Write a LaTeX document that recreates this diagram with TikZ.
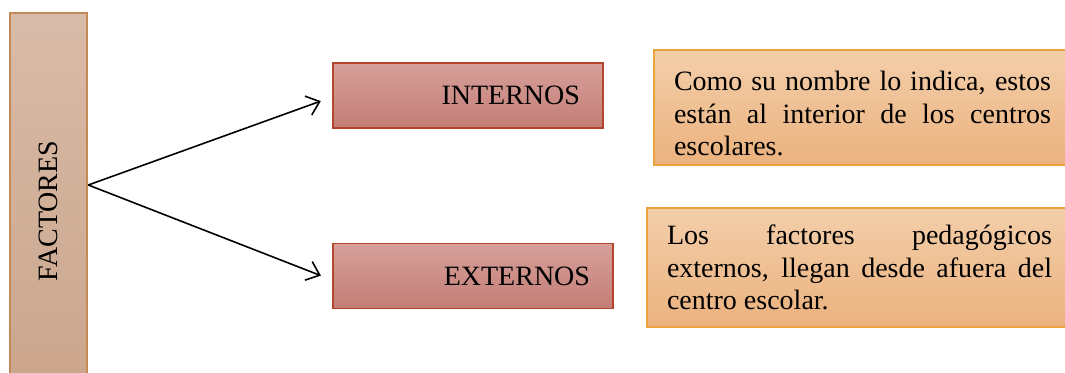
\documentclass[tikz,border=0pt]{standalone}
\usepackage{fontspec}
\setmainfont{Liberation Serif}
\usetikzlibrary{arrows.meta}

\definecolor{facTop}{RGB}{216,187,168}
\definecolor{facBot}{RGB}{202,164,138}
\definecolor{facLine}{RGB}{196,138,86}
\definecolor{boxTop}{RGB}{215,160,154}
\definecolor{boxBot}{RGB}{195,125,118}
\definecolor{boxLine}{RGB}{180,70,46}
\definecolor{descTop}{RGB}{243,206,170}
\definecolor{descBot}{RGB}{235,178,126}
\definecolor{descLine}{RGB}{234,162,58}

\begin{document}
\begin{tikzpicture}[x=0.5pt,y=-0.5pt]
  \tikzstyle{every node}+=[font=\fontsize{14}{16.3}\selectfont]
  \tikzstyle{factor}=[draw=facLine, line width=1.3pt, top color=facTop, bottom color=facBot, minimum width=38.5pt, minimum height=198pt, inner sep=0pt]
  \tikzstyle{kind}=[draw=boxLine, line width=0.9pt, top color=boxTop, bottom color=boxBot, minimum height=32.5pt, inner xsep=11.5pt, inner ysep=0pt, align=right]
  \tikzstyle{desc}=[draw=descLine, line width=1pt, top color=descTop, bottom color=descBot, inner xsep=10pt, align=justify]
  \tikzstyle{link}=[line width=0.8pt, -{Straight Barb[length=6pt,width=10pt,line width=0.8pt]}, shorten >=6pt]
  \useasboundingbox (0,0) rectangle (1065,372);
  \node [factor] (factores) at (48.5,211) {\rotatebox{90}{FACTORES}};
  \node [kind, text width=112pt] (internos) at (468,95.5) {INTERNOS};
  \node [kind, text width=117pt] (externos) at (473,276) {EXTERNOS};
  \node [desc, text width=188.5pt, minimum height=57.5pt] (dinternos) at (862.5,107.5)
    {\rule{0pt}{16pt}Como su nombre lo indica, estos\linebreak están al interior de los centros\linebreak escolares.};
  \node [desc, text width=192.5pt, minimum height=59.5pt] (dexternos) at (859.5,267.5)
    {Los factores pedagógicos\linebreak externos, llegan desde afuera del\linebreak centro escolar.};
  \draw [link] ([yshift=13pt]factores.east) -- ([yshift=-0.75pt]internos.west);
  \draw [link] ([yshift=13pt]factores.east) -- ([yshift=-2pt]externos.west);
\end{tikzpicture}
\end{document}
